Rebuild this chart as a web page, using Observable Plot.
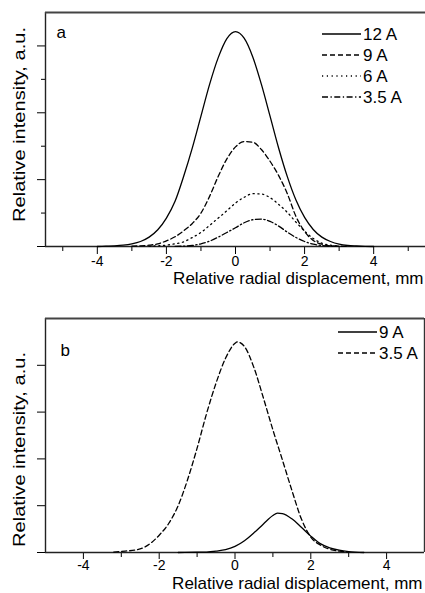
<!DOCTYPE html>
<html><head><meta charset="utf-8">
<script src="https://cdn.jsdelivr.net/npm/d3@7"></script>
<script src="https://cdn.jsdelivr.net/npm/@observablehq/plot@0.6"></script>
<style>
html,body{margin:0;padding:0;background:#fff;}
#chart{width:425px;height:593px;overflow:hidden;}
#chart svg{display:block;}
</style></head><body><div id="chart"></div>
<script>
const FONT = "'Liberation Sans', Arial, Helvetica, sans-serif";

// ---------- Panel a ----------
const seriesA = ["12 A", "9 A", "6 A", "3.5 A"];
const xA12 = [-4,-3.75,-3.5,-3.25,-3,-2.75,-2.5,-2.25,-2,-1.75,-1.5,-1.25,-1,-0.75,-0.5,-0.25,0,0.25,0.5,0.75,1,1.25,1.5,1.75,2,2.25,2.5,2.75,3,3.25,3.5,3.75,4];
const yA12 = [0.0,0.01,0.02,0.04,0.08,0.15,0.28,0.5,0.85,1.35,2.1,2.95,3.9,4.85,5.65,6.22,6.43,6.23,5.67,4.85,3.9,2.94,2.09,1.39,0.87,0.51,0.28,0.15,0.07,0.03,0.015,0.005,0.0];
const xA9 = [-3,-2.75,-2.5,-2.25,-2,-1.75,-1.5,-1.25,-1,-0.75,-0.5,-0.25,0,0.25,0.5,0.75,1,1.25,1.5,1.75,2,2.25,2.5,2.75,3,3.25];
const yA9 = [0.01,0.02,0.04,0.08,0.17,0.29,0.47,0.69,1.0,1.5,2.1,2.62,2.98,3.14,3.12,2.9,2.55,2.12,1.58,0.9,0.45,0.18,0.07,0.02,0.01,0.0];
const xA6 = [-2.5,-2.25,-2,-1.75,-1.5,-1.25,-1,-0.75,-0.5,-0.25,0,0.25,0.5,0.75,1,1.25,1.5,1.75,2,2.25,2.5,2.75,3];
const yA6 = [0.01,0.02,0.04,0.08,0.14,0.27,0.42,0.63,0.85,1.07,1.3,1.47,1.58,1.57,1.46,1.26,1.02,0.73,0.46,0.24,0.1,0.04,0.01];
const xA35 = [-1.75,-1.5,-1.25,-1,-0.75,-0.5,-0.25,0,0.25,0.5,0.75,1,1.25,1.5,1.75,2,2.25,2.5,2.75,3];
const yA35 = [0.005,0.01,0.03,0.08,0.16,0.28,0.42,0.56,0.71,0.8,0.82,0.75,0.61,0.43,0.27,0.15,0.07,0.03,0.01,0.005];
const xMajorA = [-4,-2,0,2,4];
const xMinorA = [-5,-3,-1,1,3,5];
const yMajorA = [0,2,4,6];
const yMinorA = [1,3,5];

// ---------- Panel b ----------
const seriesB = ["9 A", "3.5 A"];
const xB9 = [-1.5,-1,-0.75,-0.5,-0.25,0,0.25,0.5,0.75,1,1.12,1.25,1.5,1.75,2,2.25,2.5,2.75,3,3.4];
const yB9 = [0.0,0.005,0.01,0.03,0.06,0.13,0.25,0.42,0.61,0.79,0.84,0.83,0.72,0.54,0.35,0.19,0.1,0.05,0.02,0.0];
const xB35 = [-3.2,-2.9,-2.65,-2.35,-2,-1.75,-1.5,-1.25,-1,-0.75,-0.5,-0.25,0,0.06,0.25,0.5,0.75,1,1.25,1.5,1.75,2,2.25,2.5,2.75,3];
const yB35 = [0.01,0.03,0.05,0.13,0.37,0.62,1.0,1.56,2.23,2.97,3.62,4.15,4.47,4.5,4.4,3.95,3.3,2.62,1.98,1.33,0.72,0.33,0.16,0.07,0.03,0.01];
const xMajorB = [-4,-2,0,2,4];
const xMinorB = [-3,-1,1,3];
const yTicksB = [0,1,2,3,4];

const xLabel = "Relative radial displacement, mm";
const yLabel = "Relative intensity, a.u.";

const dashOf = {"12 A": null, "9 A": "5,3", "6 A": "1.2,3.6", "3.5 A": "6,2.5,1.3,2.5"};
const dashOfB = {"9 A": null, "3.5 A": "5,3"};

function rows(xs, ys, name) { return xs.map((x, i) => ({x, y: ys[i], s: name})); }

function makePanel(cfg) {
  const marks = [];
  marks.push(Plot.axisX(cfg.xMajor, {tickSize: cfg.xTick, tickPadding: cfg.xPad, tickFormat: d => String(d), fontSize: 14, label: null}));
  marks.push(Plot.axisX(cfg.xMinor, {tickSize: 5, tickFormat: () => "", label: null}));
  marks.push(Plot.axisY(cfg.yMajor, {tickSize: cfg.yMajorLen, tickFormat: () => "", label: null}));
  if (cfg.yMinor) marks.push(Plot.axisY(cfg.yMinor, {tickSize: 4, tickFormat: () => "", label: null}));
  marks.push(Plot.ruleY([cfg.ydom[0]], {stroke: "#222", strokeWidth: 1.4}));
  marks.push(Plot.ruleX([cfg.xdom[0]], {stroke: "#222", strokeWidth: 1.4}));
  marks.push(Plot.ruleY([cfg.ydom[1]], {stroke: "#444", strokeWidth: 1.8}));
  if (cfg.rightFrame) marks.push(Plot.ruleX([cfg.xdom[1]], {stroke: "#333", strokeWidth: 1.4}));
  cfg.series.forEach(s => {
    marks.push(Plot.line(rows(s.x, s.y, s.name), {
      x: "x", y: "y", stroke: "black", strokeWidth: 1.3,
      strokeDasharray: s.dash, curve: "monotone-x"
    }));
  });
  marks.push(Plot.text([xLabel], {text: d => d, frameAnchor: "bottom-right", textAnchor: "end", lineAnchor: "bottom", dx: -2, dy: cfg.xLabDy, fontSize: 17}));
  marks.push(Plot.text([yLabel], {text: d => d, frameAnchor: "left", textAnchor: "middle", lineAnchor: "middle", rotate: -90, dx: -26, dy: cfg.yLabDy, fontSize: 17, className: "ylab"}));
  marks.push(Plot.text([cfg.letter], {text: d => d, frameAnchor: "top-left", textAnchor: "start", lineAnchor: "bottom", dx: cfg.letDx, dy: cfg.letDy, fontSize: 17}));

  const svg = Plot.plot({
    width: 425, height: cfg.height,
    marginLeft: 45, marginRight: cfg.mr, marginTop: cfg.mt, marginBottom: cfg.mb,
    x: {domain: cfg.xdom, label: null},
    y: {domain: cfg.ydom, label: null},
    style: {fontFamily: FONT, fontSize: "14px", background: "white", color: "black", overflow: "visible"},
    marks
  });
  const sel = d3.select(svg);
  sel.selectAll(".ylab text").attr("textLength", 195).attr("lengthAdjust", "spacingAndGlyphs");
  cfg.series.forEach((s, i) => {
    const yy = cfg.legY0 + i * cfg.legDy;
    const ln = sel.append("line").attr("x1", cfg.legX1).attr("x2", cfg.legX2)
      .attr("y1", yy).attr("y2", yy).attr("stroke", "black").attr("stroke-width", 1.3);
    if (s.dash) ln.attr("stroke-dasharray", s.dash);
    sel.append("text").attr("x", cfg.legX2 + 2).attr("y", yy).attr("dy", "0.35em")
      .attr("text-anchor", "start")
      .attr("font-size", 17).attr("font-family", FONT).attr("fill", "black").text(s.name);
  });
  return svg;
}

const panelA = makePanel({
  height: 306, mt: 12, mb: 60, mr: 0,
  xdom: [-5.5, 5.5], ydom: [0, 7],
  xMajor: xMajorA, xMinor: xMinorA, yMajor: yMajorA, yMinor: yMinorA, yMajorLen: 8,
  xTick: 8, xPad: 2,
  rightFrame: false, letter: "a", letDx: 11, letDy: 25, xLabDy: 37, yLabDy: -5,
  legX1: 322, legX2: 361, legY0: 34, legDy: 21,
  series: [
    {name: seriesA[0], x: xA12, y: yA12, dash: dashOf[seriesA[0]]},
    {name: seriesA[1], x: xA9, y: yA9, dash: dashOf[seriesA[1]]},
    {name: seriesA[2], x: xA6, y: yA6, dash: dashOf[seriesA[2]]},
    {name: seriesA[3], x: xA35, y: yA35, dash: dashOf[seriesA[3]]}
  ]
});

const panelB = makePanel({
  height: 287, mt: 12, mb: 41, mr: 1,
  xdom: [-5, 5], ydom: [0, 5],
  xMajor: xMajorB, xMinor: xMinorB, yMajor: yTicksB, yMinor: null, yMajorLen: 8,
  xTick: 7, xPad: 1,
  rightFrame: true, letter: "b", letDx: 15, letDy: 37, xLabDy: 36, yLabDy: 14,
  legX1: 338, legX2: 377, legY0: 26, legDy: 21,
  series: [
    {name: seriesB[0], x: xB9, y: yB9, dash: dashOfB[seriesB[0]]},
    {name: seriesB[1], x: xB35, y: yB35, dash: dashOfB[seriesB[1]]}
  ]
});

document.getElementById("chart").append(panelA, panelB);
</script></body></html>
